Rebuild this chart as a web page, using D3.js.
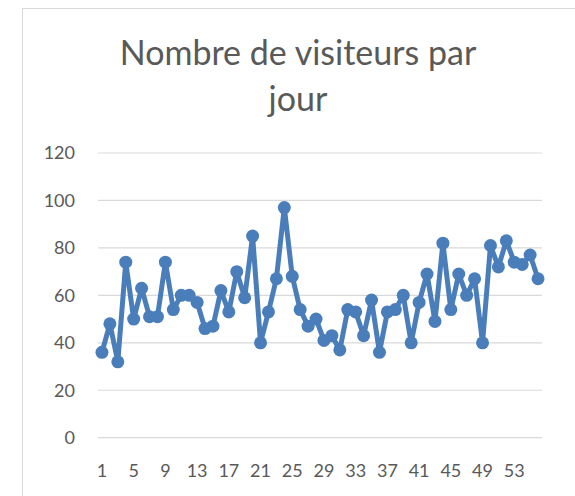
<!DOCTYPE html>
<meta charset="utf-8">
<style>
body { margin: 0; background: #fff; }
text { font-family: Lato, "Open Sans", sans-serif; fill: #595959; }
</style>
<svg width="575" height="496"></svg>
<script src="https://d3js.org/d3.v7.min.js"></script>
<script>

var days = d3.range(1, 57);
var visitors = [36, 48, 32, 74, 50, 63, 51, 51, 74, 54,
                60, 60, 57, 46, 47, 62, 53, 70, 59, 85,
                40, 53, 67, 97, 68, 54, 47, 50, 41, 43,
                37, 54, 53, 43, 58, 36, 53, 54, 60, 40,
                57, 69, 49, 82, 54, 69, 60, 67, 40, 81,
                72, 83, 74, 73, 77, 67];
var yTicks = [0, 20, 40, 60, 80, 100, 120];
var titleLines = ["Nombre de visiteurs par", "jour"];

var svg = d3.select("svg");

var margin = {left: 98, right: 542, top: 153, bottom: 437.7};

// chart frame
svg.append("rect")
    .attr("x", 22.5).attr("y", 8.5)
    .attr("width", 600).attr("height", 600)
    .attr("fill", "none")
    .attr("stroke", "#d9d9d9");

var x = d3.scalePoint()
    .domain(days)
    .range([margin.left, margin.right])
    .padding(0.5);

var y = d3.scaleLinear()
    .domain([0, 120])
    .range([margin.bottom, margin.top]);

svg.append("g")
    .selectAll("line")
    .data(yTicks)
    .enter().append("line")
      .attr("x1", margin.left).attr("x2", margin.right)
      .attr("y1", function(d) { return y(d); })
      .attr("y2", function(d) { return y(d); })
      .attr("stroke", "#d9d9d9")
      .attr("stroke-width", 1.2);

svg.append("g")
    .selectAll("text")
    .data(yTicks)
    .enter().append("text")
      .attr("x", 75)
      .attr("y", function(d) { return y(d); })
      .attr("dy", "0.36em")
      .attr("text-anchor", "end")
      .style("font-size", "18px")
      .text(function(d) { return d; });

svg.append("g")
    .selectAll("text")
    .data(days.filter(function(d) { return (d - 1) % 4 === 0; }))
    .enter().append("text")
      .attr("x", function(d) { return x(d); })
      .attr("y", 477)
      .attr("text-anchor", "middle")
      .style("font-size", "18px")
      .text(function(d) { return d; });

var line = d3.line()
    .x(function(d, i) { return x(days[i]); })
    .y(function(d) { return y(d); });

svg.append("path")
    .datum(visitors)
    .attr("d", line)
    .attr("fill", "none")
    .attr("stroke", "#4A7EBB")
    .attr("stroke-width", 5)
    .attr("stroke-linejoin", "round");

svg.append("g")
    .selectAll("circle")
    .data(visitors)
    .enter().append("circle")
      .attr("cx", function(d, i) { return x(days[i]); })
      .attr("cy", function(d) { return y(d); })
      .attr("r", 6.5)
      .attr("fill", "#4A7EBB");

svg.append("g")
    .selectAll("text")
    .data(titleLines)
    .enter().append("text")
      .attr("x", 298)
      .attr("y", function(d, i) { return 65 + i * 46; })
      .attr("text-anchor", "middle")
      .style("font-size", "34px")
      .text(function(d) { return d; });

</script>
